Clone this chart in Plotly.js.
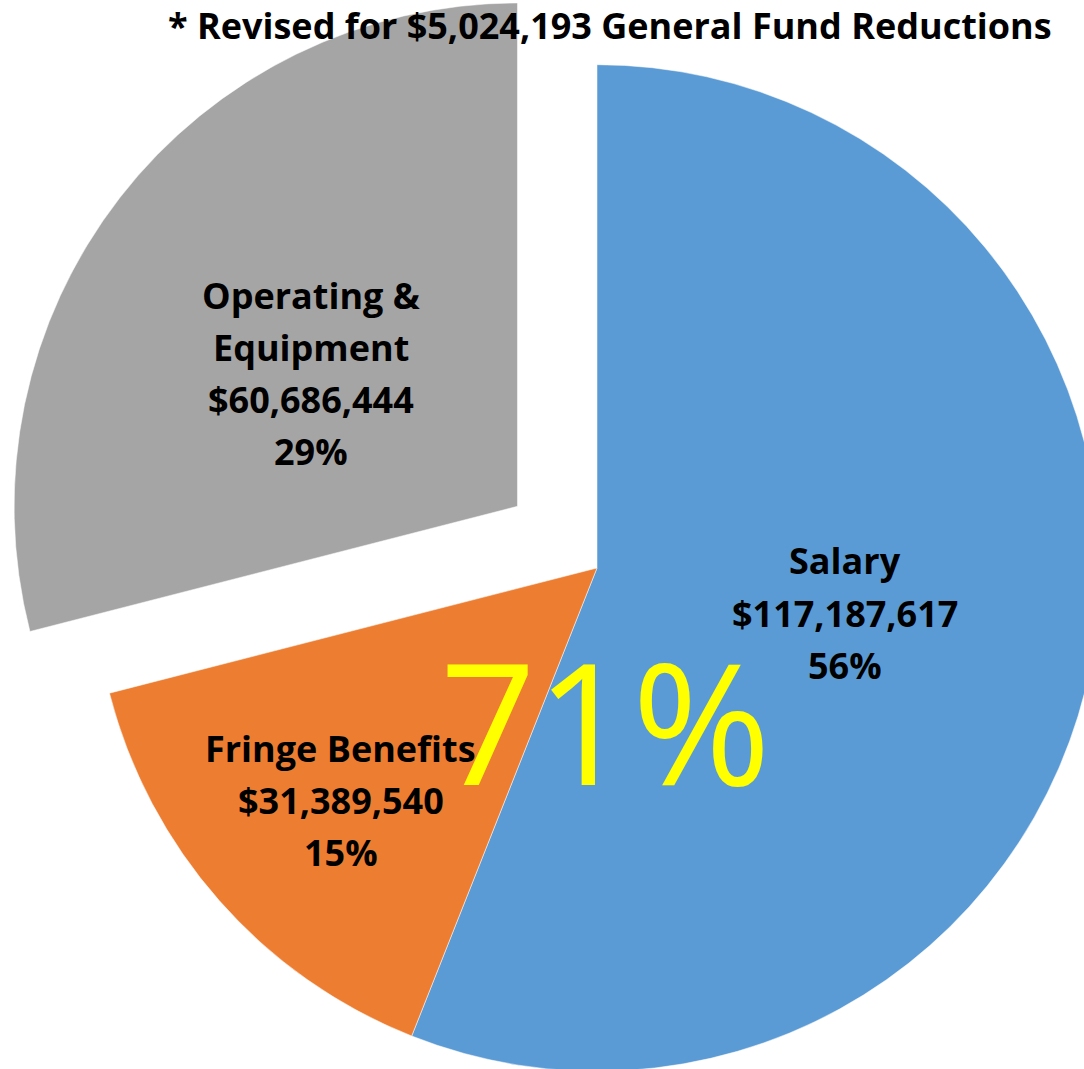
<!DOCTYPE html>
<html>
<head>
<meta charset="utf-8">
<script src="https://cdn.plot.ly/plotly-3.0.1.min.js"></script>
<style>
html,body{margin:0;padding:0;width:1084px;height:1069px;overflow:hidden;background:#fff;}
#chart{position:absolute;left:-7px;top:-36px;}
</style>
</head>
<body>
<div id="chart"></div>
<script>
// ---- data ----
const categories = ["Salary", "Fringe Benefits", "Operating & Equipment"];
const amounts = [117187617, 31389540, 60686444];
const colors = ["#5B9BD5", "#ED7D31", "#A5A5A5"];
const pulls = [0, 0, 0.2];
const reductionAmount = 5024193;
const personnelGroup = ["Salary", "Fringe Benefits"];

// ---- layout helpers ----
const W = 1208, H = 1208, OFFX = 7, OFFY = 36;
const px = x => (x + OFFX) / W;
const py = y => 1 - (y + OFFY) / H;

const total = amounts.reduce((a, b) => a + b, 0);
const pct = v => Math.round(v / total * 100) + "%";
const money = v => "$" + v.toLocaleString("en-US");
const labelLines = {
  "Salary": ["Salary"],
  "Fringe Benefits": ["Fringe Benefits"],
  "Operating & Equipment": ["Operating &", "Equipment"]
};
const labelPos = {
  "Salary": [845, 613],
  "Fringe Benefits": [341, 800],
  "Operating & Equipment": [311, 373]
};
const LINE_GAP = 52;
const FONT = "'Open Sans', Carlito, Calibri, sans-serif";

const annotations = [];
categories.forEach((c, i) => {
  const lines = labelLines[c].concat([money(amounts[i]), pct(amounts[i])]);
  const n = lines.length;
  lines.forEach((s, k) => {
    annotations.push({
      xref: "paper", yref: "paper",
      x: px(labelPos[c][0]),
      y: py(labelPos[c][1] + (k - (n - 1) / 2) * LINE_GAP),
      xanchor: "center", yanchor: "middle",
      showarrow: false,
      text: "<b>" + s + "</b>",
      font: {family: FONT, size: 36, color: "#000"}
    });
  });
});

const groupSum = personnelGroup.reduce((s, c) => s + amounts[categories.indexOf(c)], 0);
annotations.push({
  xref: "paper", yref: "paper",
  x: px(605), y: py(719),
  xanchor: "center", yanchor: "middle",
  showarrow: false,
  text: pct(groupSum),
  font: {family: FONT, size: 168, color: "#FFFF00"}
});
annotations.push({
  xref: "paper", yref: "paper",
  x: px(610), y: py(25),
  xanchor: "center", yanchor: "middle",
  showarrow: false,
  text: "<b>* Revised for " + money(reductionAmount) + " General Fund Reductions</b>",
  font: {family: FONT, size: 36, color: "#000"}
});

Plotly.newPlot("chart", [{
  type: "pie",
  labels: categories,
  values: amounts,
  sort: false,
  direction: "clockwise",
  rotation: 0,
  pull: pulls,
  marker: {colors: colors, line: {color: "#fff", width: 0.5}},
  textinfo: "none",
  hoverinfo: "label+value+percent",
  showlegend: false
}], {
  width: W, height: H,
  margin: {l: 0, r: 0, t: 0, b: 0},
  paper_bgcolor: "rgba(0,0,0,0)",
  plot_bgcolor: "rgba(0,0,0,0)",
  showlegend: false,
  annotations: annotations
}, {displayModeBar: false, staticPlot: true});
</script>
</body>
</html>
